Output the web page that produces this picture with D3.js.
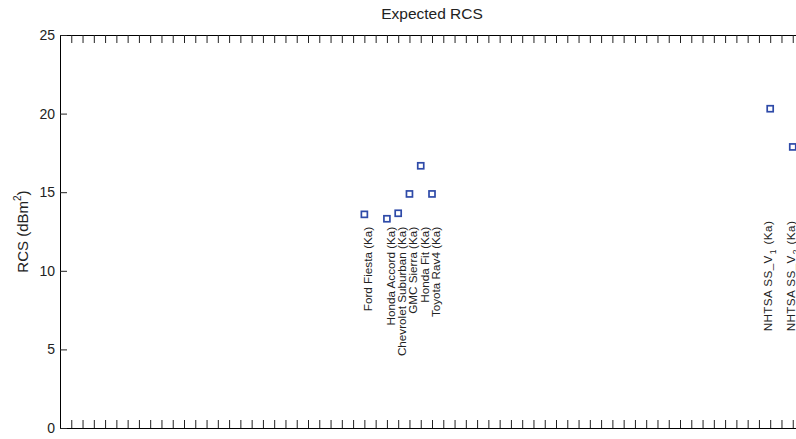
<!DOCTYPE html>
<html>
<head>
<meta charset="utf-8">
<script src="https://cdn.jsdelivr.net/npm/d3@7/dist/d3.min.js"></script>
<style>
  html, body { margin: 0; padding: 0; background: #fff; }
  svg { display: block; font-family: "Liberation Sans", Arial, Helvetica, sans-serif; }
</style>
</head>
<body>
<svg id="chart" width="796" height="439"></svg>
<script>
// ---- data ----
const title = "Expected RCS";
const yLabelMain = "RCS (dBm";
const yLabelSup = "2";
const labels = [
  "Ford Fiesta (Ka)",
  "Honda Accord (Ka)",
  "Chevrolet Suburban (Ka)",
  "GMC Sierra (Ka)",
  "Honda Fit (Ka)",
  "Toyota Rav4 (Ka)",
  "NHTSA SS_V_1 (Ka)",
  "NHTSA SS_V_2 (Ka)"
];
const vehicleIndex = [27, 29, 30, 31, 32, 33, 63, 65];
const rcs = [13.59, 13.31, 13.66, 14.89, 16.68, 14.89, 20.31, 17.88];
const yTicks = [0, 5, 10, 15, 20, 25];
const xMax = 66;

// ---- layout ----
const mLeft = 60, mTop = 35, mBottom = 428, mRight = 60 + xMax * 11.273;
const svg = d3.select("#chart");

const x = d3.scaleLinear().domain([0, xMax]).range([mLeft, mRight]);
const y = d3.scaleLinear().domain([0, 25]).range([mBottom, mTop]);
const xTicks = d3.range(1, xMax);

const gb = svg.append("g").attr("transform", `translate(0,${mBottom})`)
  .call(d3.axisBottom(x).tickValues(xTicks).tickSizeInner(-8).tickSizeOuter(0).tickFormat(""));
const gt = svg.append("g").attr("transform", `translate(0,${mTop})`)
  .call(d3.axisTop(x).tickValues(xTicks).tickSizeInner(-8).tickSizeOuter(0).tickFormat(""));
const gl = svg.append("g").attr("transform", `translate(${mLeft},0)`)
  .call(d3.axisLeft(y).tickValues(yTicks).tickSizeInner(-7).tickSizeOuter(0).tickPadding(5));
const gr = svg.append("g").attr("transform", `translate(${mRight},0)`)
  .call(d3.axisRight(y).tickValues(yTicks).tickSizeInner(-7).tickSizeOuter(0).tickFormat(""));

[gb, gt, gl, gr].forEach(g => {
  g.select(".domain").attr("stroke", "#000").attr("stroke-width", 1);
  g.selectAll(".tick line").attr("stroke", "#222").attr("stroke-width", 1);
});
gl.selectAll(".tick text")
  .attr("font-size", "14px").attr("fill", "#222")
  .attr("font-family", "'Liberation Sans', Arial, sans-serif");

svg.append("text")
  .attr("x", (mLeft + mRight) / 2).attr("y", 19)
  .attr("text-anchor", "middle")
  .attr("font-size", "15.5px").attr("fill", "#222")
  .text(title);

const yl = svg.append("text")
  .attr("transform", `translate(28,${(mTop + mBottom) / 2}) rotate(-90)`)
  .attr("text-anchor", "middle")
  .attr("font-size", "15px").attr("fill", "#222");
yl.append("tspan").text(yLabelMain);
yl.append("tspan").attr("dy", "-7").attr("font-size", "10px").text(yLabelSup);
yl.append("tspan").attr("dy", "7").text(")");

const pts = vehicleIndex.map((v, i) => ({ v, r: rcs[i], label: labels[i] }));
const ms = 6;
svg.append("g").selectAll("rect").data(pts).join("rect")
  .attr("x", d => x(d.v) - ms / 2)
  .attr("y", d => y(d.r) - ms / 2)
  .attr("width", ms).attr("height", ms)
  .attr("fill", "#fff")
  .attr("stroke", "#2e4aa8")
  .attr("stroke-width", 1.7);

const labelBase = 12.8;
const lg = svg.append("g").attr("font-size", "11.7px").attr("fill", "#222");
pts.forEach(d => {
  const m = d.label.match(/^(.*_V)_(\d)(.*)$/);
  const hasSub = !!m;
  const tx = x(d.v) + (hasSub ? 2.2 : 8);
  const ty = y(labelBase) - (hasSub ? 6 : 0);
  const t = lg.append("text")
    .attr("transform", `translate(${tx},${ty}) rotate(-90)`)
    .attr("text-anchor", "end");
  if (hasSub) {
    t.attr("letter-spacing", "0.4px");
    t.append("tspan").text(m[1]);
    t.append("tspan").attr("dy", "4").attr("dx", "1").attr("font-size", "8.5px").text(m[2]);
    t.append("tspan").attr("dy", "-4").attr("dx", "1").text(m[3]);
  } else {
    t.text(d.label);
  }
});
</script>
</body>
</html>
